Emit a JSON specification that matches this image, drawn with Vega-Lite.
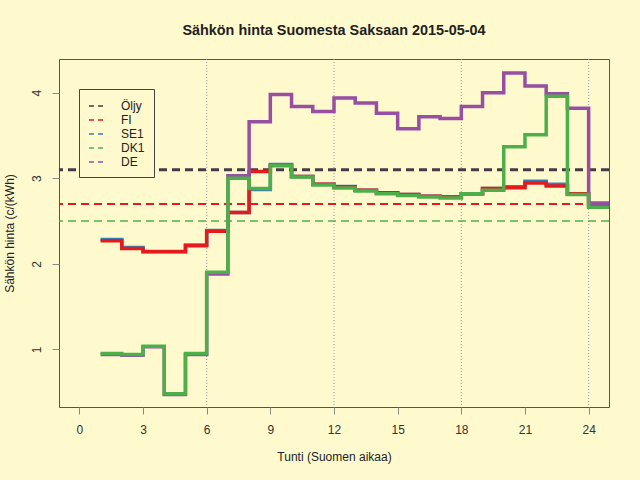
{
  "$schema": "https://vega.github.io/schema/vega-lite/v6.json",
  "width": 550,
  "height": 348,
  "autosize": {"type": "none"},
  "padding": {"left": 59, "top": 59, "right": 31, "bottom": 73},
  "background": "#FFFACD",
  "title": {
    "text": "Sähkön hinta Suomesta Saksaan 2015-05-04",
    "font": "Liberation Sans",
    "fontSize": 14.4,
    "fontWeight": "bold",
    "color": "#222222",
    "anchor": "middle",
    "offset": 20
  },
  "config": {
    "view": {"stroke": "#555555", "strokeWidth": 1},
    "axis": {
      "labelFont": "Liberation Sans",
      "titleFont": "Liberation Sans",
      "labelFontSize": 12,
      "titleFontSize": 12,
      "titleFontWeight": "normal",
      "labelColor": "#333333",
      "titleColor": "#222222",
      "tickColor": "#888888",
      "tickSize": 7,
      "domain": false,
      "grid": false
    },
    "legend": {
      "labelFont": "Liberation Sans",
      "labelFontSize": 12,
      "labelColor": "#222222"
    }
  },
  "datasets": {
    "steps": [
      {"h": 1, "s": "FI", "p": 2.27}, {"h": 2, "s": "FI", "p": 2.18}, {"h": 3, "s": "FI", "p": 2.14}, {"h": 4, "s": "FI", "p": 2.14},
      {"h": 5, "s": "FI", "p": 2.21}, {"h": 6, "s": "FI", "p": 2.38}, {"h": 7, "s": "FI", "p": 2.60}, {"h": 8, "s": "FI", "p": 3.08},
      {"h": 9, "s": "FI", "p": 3.15}, {"h": 10, "s": "FI", "p": 3.02}, {"h": 11, "s": "FI", "p": 2.93}, {"h": 12, "s": "FI", "p": 2.90},
      {"h": 13, "s": "FI", "p": 2.86}, {"h": 14, "s": "FI", "p": 2.83}, {"h": 15, "s": "FI", "p": 2.81}, {"h": 16, "s": "FI", "p": 2.79},
      {"h": 17, "s": "FI", "p": 2.78}, {"h": 18, "s": "FI", "p": 2.82}, {"h": 19, "s": "FI", "p": 2.88}, {"h": 20, "s": "FI", "p": 2.89},
      {"h": 21, "s": "FI", "p": 2.945}, {"h": 22, "s": "FI", "p": 2.91}, {"h": 23, "s": "FI", "p": 2.82}, {"h": 24, "s": "FI", "p": 2.67},
      {"h": 25, "s": "FI", "p": 2.67},
      {"h": 1, "s": "SE1", "p": 2.285}, {"h": 2, "s": "SE1", "p": 2.19}, {"h": 3, "s": "SE1", "p": 2.145}, {"h": 4, "s": "SE1", "p": 2.145},
      {"h": 5, "s": "SE1", "p": 2.22}, {"h": 6, "s": "SE1", "p": 2.39}, {"h": 7, "s": "SE1", "p": 2.60}, {"h": 8, "s": "SE1", "p": 2.87},
      {"h": 9, "s": "SE1", "p": 3.16}, {"h": 10, "s": "SE1", "p": 3.02}, {"h": 11, "s": "SE1", "p": 2.93}, {"h": 12, "s": "SE1", "p": 2.905},
      {"h": 13, "s": "SE1", "p": 2.86}, {"h": 14, "s": "SE1", "p": 2.83}, {"h": 15, "s": "SE1", "p": 2.81}, {"h": 16, "s": "SE1", "p": 2.79},
      {"h": 17, "s": "SE1", "p": 2.78}, {"h": 18, "s": "SE1", "p": 2.82}, {"h": 19, "s": "SE1", "p": 2.88}, {"h": 20, "s": "SE1", "p": 2.90},
      {"h": 21, "s": "SE1", "p": 2.965}, {"h": 22, "s": "SE1", "p": 2.93}, {"h": 23, "s": "SE1", "p": 2.82}, {"h": 24, "s": "SE1", "p": 2.68},
      {"h": 25, "s": "SE1", "p": 2.68},
      {"h": 1, "s": "DK1", "p": 0.95}, {"h": 2, "s": "DK1", "p": 0.94}, {"h": 3, "s": "DK1", "p": 1.035}, {"h": 4, "s": "DK1", "p": 0.48},
      {"h": 5, "s": "DK1", "p": 0.95}, {"h": 6, "s": "DK1", "p": 1.90}, {"h": 7, "s": "DK1", "p": 3.00}, {"h": 8, "s": "DK1", "p": 2.88},
      {"h": 9, "s": "DK1", "p": 3.15}, {"h": 10, "s": "DK1", "p": 3.015}, {"h": 11, "s": "DK1", "p": 2.92}, {"h": 12, "s": "DK1", "p": 2.885},
      {"h": 13, "s": "DK1", "p": 2.85}, {"h": 14, "s": "DK1", "p": 2.82}, {"h": 15, "s": "DK1", "p": 2.80}, {"h": 16, "s": "DK1", "p": 2.78},
      {"h": 17, "s": "DK1", "p": 2.77}, {"h": 18, "s": "DK1", "p": 2.82}, {"h": 19, "s": "DK1", "p": 2.86}, {"h": 20, "s": "DK1", "p": 3.37},
      {"h": 21, "s": "DK1", "p": 3.51}, {"h": 22, "s": "DK1", "p": 3.96}, {"h": 23, "s": "DK1", "p": 2.81}, {"h": 24, "s": "DK1", "p": 2.66},
      {"h": 25, "s": "DK1", "p": 2.66},
      {"h": 1, "s": "DE", "p": 0.94}, {"h": 2, "s": "DE", "p": 0.93}, {"h": 3, "s": "DE", "p": 1.03}, {"h": 4, "s": "DE", "p": 0.47},
      {"h": 5, "s": "DE", "p": 0.94}, {"h": 6, "s": "DE", "p": 1.88}, {"h": 7, "s": "DE", "p": 3.03}, {"h": 8, "s": "DE", "p": 3.66},
      {"h": 9, "s": "DE", "p": 3.98}, {"h": 10, "s": "DE", "p": 3.84}, {"h": 11, "s": "DE", "p": 3.78}, {"h": 12, "s": "DE", "p": 3.94},
      {"h": 13, "s": "DE", "p": 3.88}, {"h": 14, "s": "DE", "p": 3.76}, {"h": 15, "s": "DE", "p": 3.58}, {"h": 16, "s": "DE", "p": 3.72},
      {"h": 17, "s": "DE", "p": 3.70}, {"h": 18, "s": "DE", "p": 3.84}, {"h": 19, "s": "DE", "p": 4.00}, {"h": 20, "s": "DE", "p": 4.23},
      {"h": 21, "s": "DE", "p": 4.08}, {"h": 22, "s": "DE", "p": 3.99}, {"h": 23, "s": "DE", "p": 3.82}, {"h": 24, "s": "DE", "p": 2.71},
      {"h": 25, "s": "DE", "p": 2.71}
    ],
    "refs": [
      {"s": "Öljy", "v": 3.1},
      {"s": "FI", "v": 2.7},
      {"s": "DK1", "v": 2.5}
    ],
    "grid": [{"g": 6}, {"g": 12}, {"g": 18}, {"g": 24}]
  },
  "layer": [
    {
      "data": {"name": "grid"},
      "mark": {"type": "rule", "color": "#999999", "strokeWidth": 1, "strokeDash": [1, 2]},
      "encoding": {
        "x": {
          "field": "g", "type": "quantitative",
          "scale": {"domain": [-0.96, 24.96], "nice": false, "zero": false},
          "axis": {"values": [0, 3, 6, 9, 12, 15, 18, 21, 24], "title": "Tunti (Suomen aikaa)", "labelPadding": 10, "titlePadding": 16, "labelFlush": false}
        }
      }
    },
    {
      "data": {"name": "refs"},
      "transform": [{"filter": "datum.s === 'Öljy'"}],
      "mark": {"type": "rule", "strokeWidth": 3, "strokeDash": [8, 5]},
      "encoding": {
        "y": {
          "field": "v", "type": "quantitative",
          "scale": {"domain": [0.325, 4.395], "nice": false, "zero": false},
          "axis": {"values": [1, 2, 3, 4], "format": "d", "title": "Sähkön hinta (c/(kWh)", "labelAngle": -90, "labelAlign": "center", "labelBaseline": "bottom", "labelPadding": 9, "titlePadding": 14}
        },
        "color": {
          "field": "s", "type": "nominal",
          "scale": {"domain": ["Öljy", "FI", "SE1", "DK1", "DE"], "range": ["#463c46", "#E41A1C", "#377EB8", "#4DAF4A", "#984EA3"]},
          "legend": {
            "title": null,
            "orient": "none",
            "legendX": 20,
            "legendY": 30,
            "padding": 9,
            "strokeColor": "#444444",
            "fillColor": "#FFFACD",
            "symbolType": "stroke",
            "symbolSize": 196,
            "symbolStrokeWidth": 2,
            "symbolDash": [5, 4],
            "symbolOpacity": 1,
            "rowPadding": 0,
            "labelOffset": 17
          }
        }
      }
    },
    {
      "data": {"name": "refs"},
      "transform": [{"filter": "datum.s === 'FI'"}],
      "mark": {"type": "rule", "strokeWidth": 2, "strokeDash": [8, 5]},
      "encoding": {
        "y": {"field": "v", "type": "quantitative"},
        "color": {"field": "s", "type": "nominal"}
      }
    },
    {
      "data": {"name": "refs"},
      "transform": [{"filter": "datum.s === 'DK1'"}],
      "mark": {"type": "rule", "strokeWidth": 2, "strokeDash": [8, 5], "opacity": 0.75},
      "encoding": {
        "y": {"field": "v", "type": "quantitative"},
        "color": {"field": "s", "type": "nominal"}
      }
    },
    {
      "data": {"name": "steps"},
      "transform": [{"filter": "datum.s === 'SE1'"}],
      "mark": {"type": "line", "interpolate": "step-after", "strokeWidth": 3.5, "clip": true},
      "encoding": {
        "x": {"field": "h", "type": "quantitative"},
        "y": {"field": "p", "type": "quantitative"},
        "color": {"field": "s", "type": "nominal"}
      }
    },
    {
      "data": {"name": "steps"},
      "transform": [{"filter": "datum.s === 'FI'"}],
      "mark": {"type": "line", "interpolate": "step-after", "strokeWidth": 3.5, "clip": true},
      "encoding": {
        "x": {"field": "h", "type": "quantitative"},
        "y": {"field": "p", "type": "quantitative"},
        "color": {"field": "s", "type": "nominal"}
      }
    },
    {
      "data": {"name": "steps"},
      "transform": [{"filter": "datum.s === 'DE'"}],
      "mark": {"type": "line", "interpolate": "step-after", "strokeWidth": 3.5, "clip": true},
      "encoding": {
        "x": {"field": "h", "type": "quantitative"},
        "y": {"field": "p", "type": "quantitative"},
        "color": {"field": "s", "type": "nominal"}
      }
    },
    {
      "data": {"name": "steps"},
      "transform": [{"filter": "datum.s === 'DK1'"}],
      "mark": {"type": "line", "interpolate": "step-after", "strokeWidth": 3.5, "clip": true},
      "encoding": {
        "x": {"field": "h", "type": "quantitative"},
        "y": {"field": "p", "type": "quantitative"},
        "color": {"field": "s", "type": "nominal"}
      }
    }
  ]
}
